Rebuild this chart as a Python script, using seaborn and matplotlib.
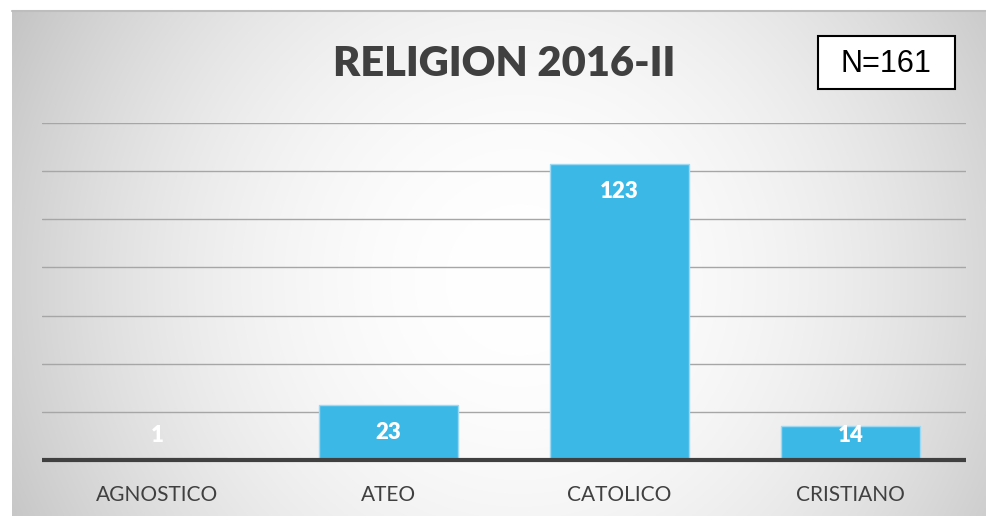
import numpy as np
import matplotlib
matplotlib.use("Agg")
import matplotlib.pyplot as plt
import seaborn as sns
from matplotlib.patches import Rectangle
from matplotlib.lines import Line2D

categories = ["AGNOSTICO", "ATEO", "CATOLICO", "CRISTIANO"]
values = [1, 23, 123, 14]
title = "RELIGION 2016-II"
n_label = "N=161"
y_ticks = [0, 20, 40, 60, 80, 100, 120, 140]

sns.set_theme(style="white")
plt.rcParams['font.family'] = ['Lato', 'DejaVu Sans']

W, H = 987, 516
fig = plt.figure(figsize=(W / 100, H / 100), dpi=100)
fig.patch.set_facecolor("white")

# background gradient panel
bg = fig.add_axes([12 / W, 0, (W - 12) / W, (H - 10) / H])
bg.set_axis_off()
xs = np.arange(12, W) + 0.5
ys = np.arange(10, H) + 0.5
X, Y = np.meshgrid(xs, ys)
b = 1 - 0.18 * ((X - 520) / 505) ** 2 - 0.05 * ((Y - 280) / 270) ** 2
b = np.clip(b, 0.765, 1.0)
img = np.dstack([b, b, b])
bg.imshow(img, aspect="auto", extent=[0, 1, 0, 1], origin="upper")
bg.set_xlim(0, 1)
bg.set_ylim(0, 1)
fig.add_artist(Line2D([12 / W, 1], [1 - 11 / H, 1 - 11 / H], transform=fig.transFigure,
                      color="#bdbdbd", lw=1.5))

# main axes
ax = fig.add_axes([42 / W, 56 / H, 924 / W, 337 / H])
ax.patch.set_alpha(0)
sns.barplot(x=categories, y=values, color="#3cb8e6", saturation=1, width=0.6,
            edgecolor="#9dd9f2", linewidth=1, ax=ax, zorder=3)
ax.set_xlim(-0.5, len(categories) - 0.5)
ax.set_ylim(0, 140)
ax.set_yticks(y_ticks)
ax.set_yticklabels([])
ax.yaxis.grid(True, color="#a6a6a6", lw=1)
ax.xaxis.grid(False)
ax.set_axisbelow(True)
for s in ["top", "right", "left", "bottom"]:
    ax.spines[s].set_visible(False)
ax.axhline(0, color="#404040", lw=3.0, zorder=5, clip_on=False, solid_capstyle="butt")
ax.tick_params(axis="x", length=0, pad=18, labelsize=15, labelcolor="#404040")
ax.tick_params(axis="y", length=0)
ax.set_xlabel("")
ax.set_ylabel("")

for i, v in enumerate(values):
    ax.text(i, max(v - 11.5, 10), str(v), ha="center", va="center", color="white",
            fontsize=16, fontweight="heavy", zorder=6)

fig.text(504 / W, 1 - 64 / H, title, ha="center", va="center", fontsize=30,
         fontweight="heavy", color="#404040")

fig.add_artist(Rectangle((818 / W, 1 - 89 / H), 137 / W, 53 / H, transform=fig.transFigure,
                         facecolor="white", edgecolor="black", lw=1.5))
fig.text(886 / W, 1 - 64 / H, n_label, ha="center", va="center", fontsize=22,
         color="black", family=["Liberation Sans", "DejaVu Sans"])

fig.savefig("out.png", dpi=100)
